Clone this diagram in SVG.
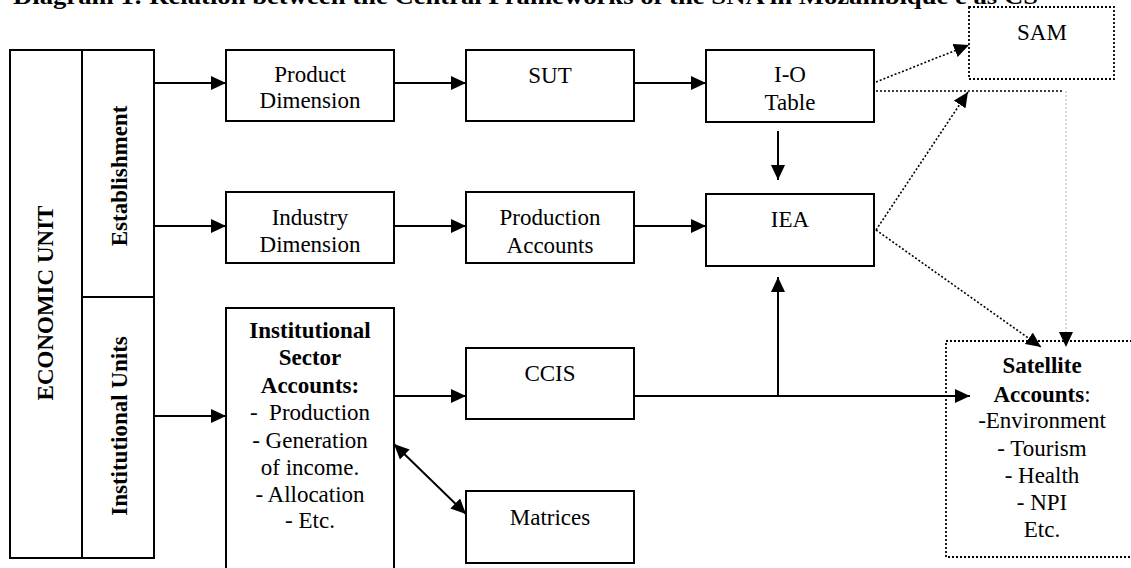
<svg xmlns="http://www.w3.org/2000/svg" width="1131" height="568" viewBox="0 0 1131 568">
<style>
text{font-family:"Liberation Serif","Times New Roman",serif;font-size:23px;fill:#000;text-anchor:middle}
.b{font-weight:bold}
.box{fill:#fff;stroke:#000;stroke-width:2}
.dbox{fill:none;stroke:#000;stroke-width:1.8;stroke-dasharray:2 2}
.c{fill:none;stroke:#000;stroke-width:2}
.d{fill:none;stroke:#000;stroke-width:1.6;stroke-dasharray:2 2}
.g{fill:none;stroke:#ccc;stroke-width:1.6;stroke-dasharray:2 2}
</style>
<defs>
<marker id="ah" markerUnits="userSpaceOnUse" markerWidth="16" markerHeight="14" refX="15" refY="7" orient="auto"><path d="M0,0 L15,7 L0,14 Z" fill="#000"/></marker>
<marker id="as" markerUnits="userSpaceOnUse" markerWidth="16" markerHeight="14" refX="0" refY="7" orient="auto"><path d="M15,0 L0,7 L15,14 Z" fill="#000"/></marker>
</defs>
<text class="b" x="13" y="4" text-anchor="start" style="text-anchor:start" textLength="1025" lengthAdjust="spacingAndGlyphs">Diagram 1: Relation between the Central Frameworks of the SNA in Mozambique e as CS</text>

<g id="economic-unit">
<rect class="box" x="10" y="50" width="72" height="508"/>
<text class="b" transform="translate(53,303) rotate(-90)">ECONOMIC UNIT</text>
</g>
<g id="establishment">
<rect class="box" x="82" y="50" width="72" height="247"/>
<text class="b" transform="translate(127,176) rotate(-90)">Establishment</text>
</g>
<g id="institutional-units">
<rect class="box" x="82" y="297" width="72" height="261"/>
<text class="b" transform="translate(127,426) rotate(-90)">Institutional Units</text>
</g>

<g id="product-dimension">
<rect class="box" x="226" y="50" width="168" height="71"/>
<text x="310" y="82">Product</text><text x="310" y="108">Dimension</text>
</g>
<g id="industry-dimension">
<rect class="box" x="226" y="192" width="168" height="71"/>
<text x="310" y="225">Industry</text><text x="310" y="252">Dimension</text>
</g>
<g id="institutional-sector-accounts">
<rect class="box" x="226" y="308" width="168" height="270"/>
<text class="b" x="310" y="338">Institutional</text>
<text class="b" x="310" y="365">Sector</text>
<text class="b" x="310" y="393">Accounts:</text>
<text x="310" y="420" xml:space="preserve">-  Production</text>
<text x="310" y="448">- Generation</text>
<text x="310" y="475">of income.</text>
<text x="310" y="502">- Allocation</text>
<text x="310" y="528">- Etc.</text>
</g>
<g id="sut">
<rect class="box" x="466" y="50" width="168" height="71"/>
<text x="550" y="83">SUT</text>
</g>
<g id="production-accounts">
<rect class="box" x="466" y="192" width="168" height="71"/>
<text x="550" y="225">Production</text><text x="550" y="253">Accounts</text>
</g>
<g id="ccis">
<rect class="box" x="466" y="348" width="168" height="71"/>
<text x="550" y="381">CCIS</text>
</g>
<g id="matrices">
<rect class="box" x="466" y="491" width="168" height="72"/>
<text x="550" y="525">Matrices</text>
</g>
<g id="io-table">
<rect class="box" x="706" y="50" width="168" height="72"/>
<text x="790" y="82">I-O</text><text x="790" y="110">Table</text>
</g>
<g id="iea">
<rect class="box" x="706" y="194" width="168" height="72"/>
<text x="790" y="227">IEA</text>
</g>
<g id="sam">
<rect class="dbox" x="969" y="7" width="145" height="72"/>
<text x="1042" y="40">SAM</text>
</g>
<g id="satellite-accounts">
<rect class="dbox" x="946" y="341" width="190" height="216"/>
<text x="1042" y="373"><tspan class="b">Satellite</tspan></text>
<text x="1042" y="402"><tspan class="b">Accounts</tspan>:</text>
<text x="1042" y="428">-Environment</text>
<text x="1042" y="456">- Tourism</text>
<text x="1042" y="483">- Health</text>
<text x="1042" y="510">- NPI</text>
<text x="1042" y="537">Etc.</text>
</g>

<g id="connectors">
<line class="c" x1="154" y1="83" x2="226" y2="83" marker-end="url(#ah)"/>
<line class="c" x1="154" y1="226" x2="226" y2="226" marker-end="url(#ah)"/>
<line class="c" x1="154" y1="416" x2="226" y2="416" marker-end="url(#ah)"/>
<line class="c" x1="394" y1="83" x2="466" y2="83" marker-end="url(#ah)"/>
<line class="c" x1="634" y1="83" x2="706" y2="83" marker-end="url(#ah)"/>
<line class="c" x1="394" y1="226" x2="466" y2="226" marker-end="url(#ah)"/>
<line class="c" x1="634" y1="226" x2="706" y2="226" marker-end="url(#ah)"/>
<line class="c" x1="394" y1="396" x2="466" y2="396" marker-end="url(#ah)"/>
<line class="c" x1="634" y1="396" x2="970" y2="396" marker-end="url(#ah)"/>
<line class="c" x1="778" y1="396" x2="778" y2="277" marker-end="url(#ah)"/>
<line class="c" x1="778" y1="131" x2="778" y2="180" marker-end="url(#ah)"/>
<line class="c" x1="394" y1="444" x2="466" y2="514" marker-start="url(#as)" marker-end="url(#ah)"/>
<line class="d" x1="876" y1="82" x2="969" y2="45" marker-end="url(#ah)"/>
<line class="d" x1="876" y1="91" x2="1064" y2="91"/>
<line class="g" x1="1066" y1="91" x2="1066" y2="347" marker-end="url(#ah)"/>
<line class="d" x1="876" y1="230" x2="968" y2="92" marker-end="url(#ah)"/>
<line class="d" x1="876" y1="230" x2="1041" y2="347" marker-end="url(#ah)"/>
</g>
</svg>
